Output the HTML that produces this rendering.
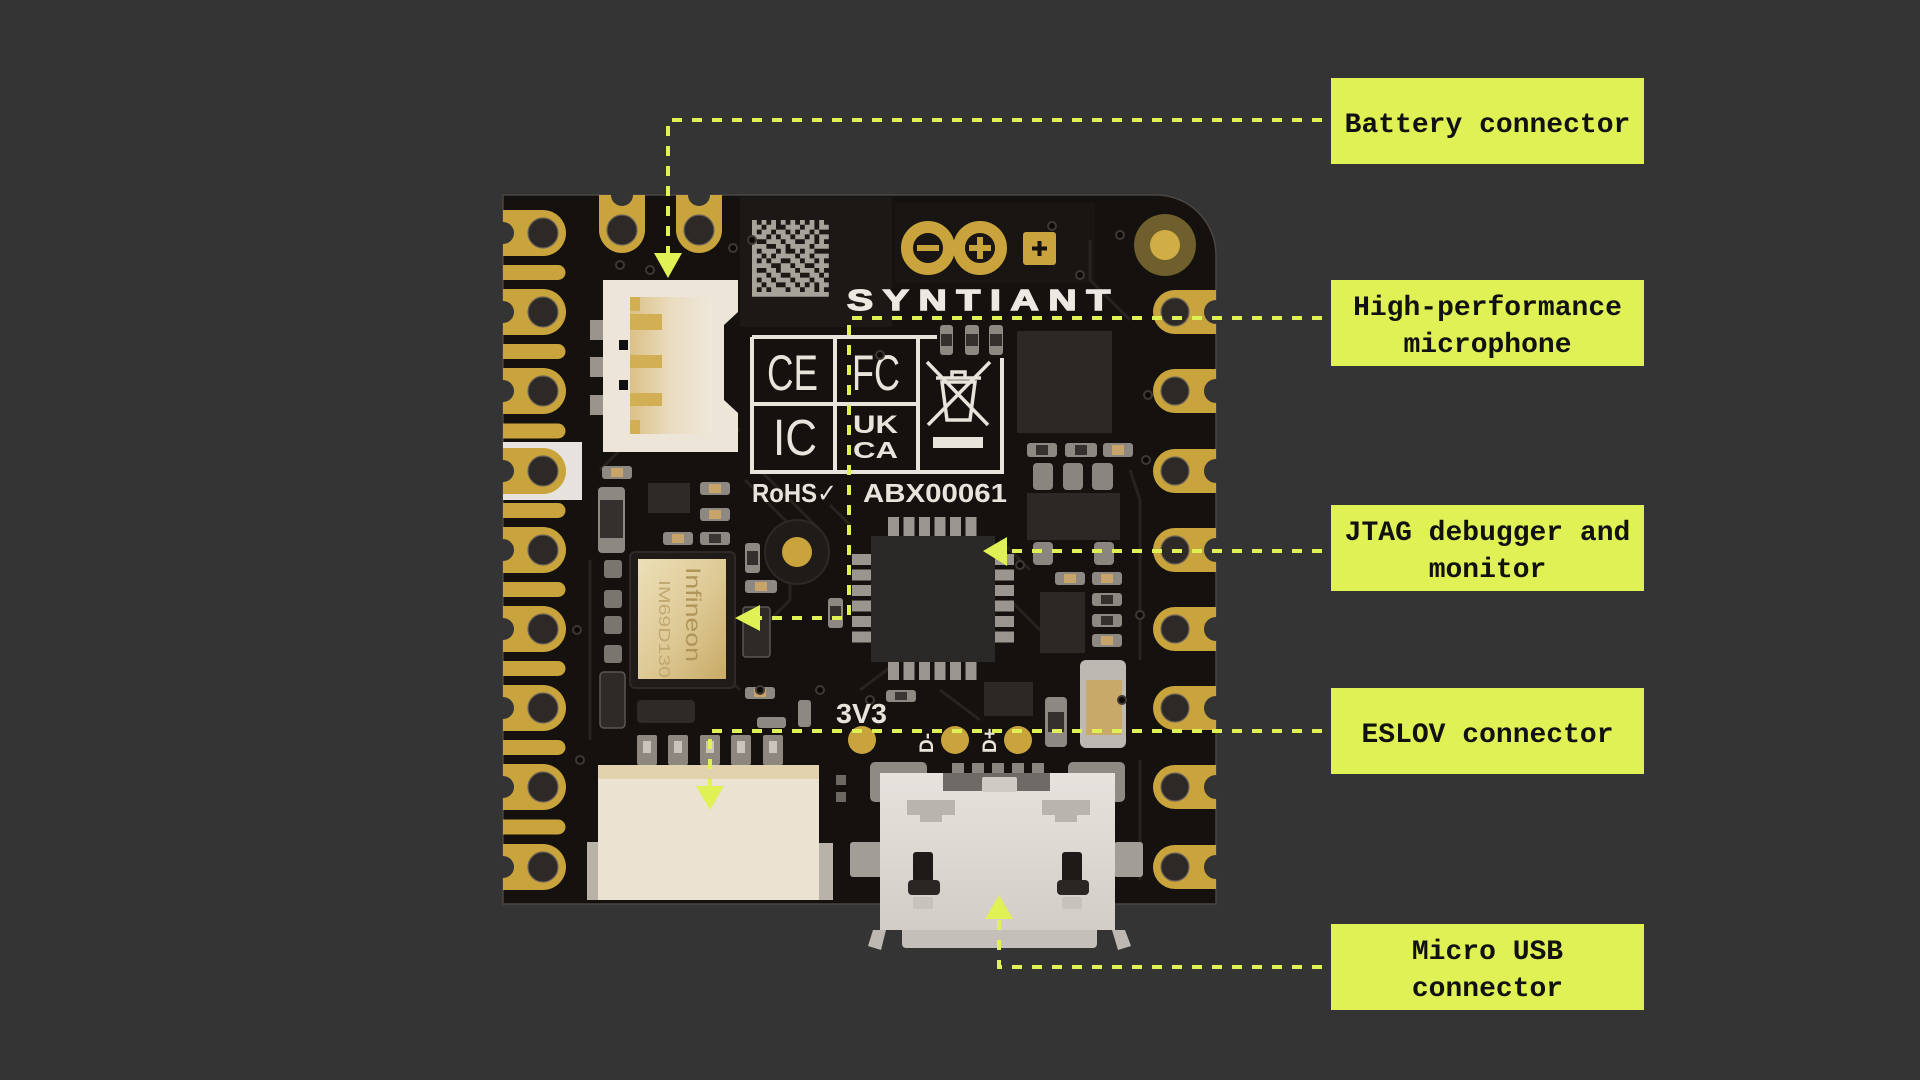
<!DOCTYPE html>
<html><head><meta charset="utf-8">
<style>
html,body{margin:0;padding:0;background:#343434;}
body{width:1920px;height:1080px;position:relative;overflow:hidden;font-family:"Liberation Sans",sans-serif;}
svg{position:absolute;left:0;top:0;}
.box{position:absolute;left:1331px;width:313px;height:86px;background:#dff155;color:#111;font-family:"Liberation Mono",monospace;font-weight:bold;font-size:28px;line-height:37px;display:flex;align-items:center;justify-content:center;text-align:center;}
.box>div{position:relative;top:4px;}
</style></head><body>
<svg width="1920" height="1080" viewBox="0 0 1920 1080" xmlns="http://www.w3.org/2000/svg">
<defs>
<linearGradient id="usb" x1="0" y1="0" x2="0" y2="1"><stop offset="0" stop-color="#e6e3de"/><stop offset="1" stop-color="#d2cdc6"/></linearGradient>
<linearGradient id="mic" x1="0" y1="0" x2="1" y2="1"><stop offset="0" stop-color="#ecdfb8"/><stop offset="0.55" stop-color="#ddc893"/><stop offset="1" stop-color="#c7aa66"/></linearGradient>
<linearGradient id="bat" x1="0" y1="0" x2="1" y2="0"><stop offset="0" stop-color="#dcc086"/><stop offset="0.5" stop-color="#eadcc0"/><stop offset="1" stop-color="#efe7da"/></linearGradient>
</defs>

<!-- board -->
<path d="M503 195H1156A60 60 0 0 1 1216 255V904H503Z" fill="#14110e" stroke="#4b4640" stroke-width="1.5"/>
<rect x="740" y="197" width="152" height="130" fill="#1b1815"/>
<rect x="895" y="203" width="200" height="80" fill="#181512"/>

<!-- traces -->
<g stroke="#28231f" stroke-width="3" fill="none">
<path d="M600 470 L640 430 L740 430"/>
<path d="M745 480 L790 525 L790 600 L760 630"/>
<path d="M760 470 L820 530"/>
<path d="M700 560 L700 650 L740 690"/>
<path d="M830 505 L850 525"/>
<path d="M1000 540 L1030 570"/>
<path d="M1010 600 L1040 630"/>
<path d="M1130 470 L1140 500 L1140 660"/>
<path d="M860 690 L900 660"/>
<path d="M940 690 L980 720"/>
<path d="M590 560 L590 740"/>
<path d="M1140 760 L1140 880"/>
<path d="M1090 240 L1090 280 L1130 320"/>
</g>

<!-- white label rect left -->
<rect x="503" y="442" width="79" height="58" fill="#e6e3de"/>

<!-- left pads -->
<g fill="#c9a33c">
<path d="M503 210H543A23 23 0 0 1 543 256H503Z"/>
<path d="M503 289H543A23 23 0 0 1 543 335H503Z"/>
<path d="M503 368H543A23 23 0 0 1 543 414H503Z"/>
<path d="M503 448H543A23 23 0 0 1 543 494H503Z"/>
<path d="M503 527H543A23 23 0 0 1 543 573H503Z"/>
<path d="M503 606H543A23 23 0 0 1 543 652H503Z"/>
<path d="M503 685H543A23 23 0 0 1 543 731H503Z"/>
<path d="M503 764H543A23 23 0 0 1 543 810H503Z"/>
<path d="M503 844H543A23 23 0 0 1 543 890H503Z"/>
<path d="M503 265H558A7.5 7.5 0 0 1 558 280H503Z"/>
<path d="M503 344H558A7.5 7.5 0 0 1 558 359H503Z"/>
<path d="M503 423.5H558A7.5 7.5 0 0 1 558 438.5H503Z"/>
<path d="M503 503H558A7.5 7.5 0 0 1 558 518H503Z"/>
<path d="M503 582H558A7.5 7.5 0 0 1 558 597H503Z"/>
<path d="M503 661H558A7.5 7.5 0 0 1 558 676H503Z"/>
<path d="M503 740H558A7.5 7.5 0 0 1 558 755H503Z"/>
<path d="M503 819.5H558A7.5 7.5 0 0 1 558 834.5H503Z"/>
<!-- right pads -->
<path d="M1216 290H1175A22 22 0 0 0 1175 334H1216Z"/>
<path d="M1216 369H1175A22 22 0 0 0 1175 413H1216Z"/>
<path d="M1216 449H1175A22 22 0 0 0 1175 493H1216Z"/>
<path d="M1216 528H1175A22 22 0 0 0 1175 572H1216Z"/>
<path d="M1216 607H1175A22 22 0 0 0 1175 651H1216Z"/>
<path d="M1216 686H1175A22 22 0 0 0 1175 730H1216Z"/>
<path d="M1216 765H1175A22 22 0 0 0 1175 809H1216Z"/>
<path d="M1216 845H1175A22 22 0 0 0 1175 889H1216Z"/>
<!-- top pads -->
<path d="M599 195V230A23 23 0 0 0 645 230V195Z"/>
<path d="M676 195V230A23 23 0 0 0 722 230V195Z"/>
</g>
<g fill="#2c2927" stroke="#6b6359" stroke-width="1.2">
<circle cx="543" cy="233" r="15"/><circle cx="543" cy="312" r="15"/><circle cx="543" cy="391" r="15"/>
<circle cx="543" cy="471" r="15"/><circle cx="543" cy="550" r="15"/><circle cx="543" cy="629" r="15"/>
<circle cx="543" cy="708" r="15"/><circle cx="543" cy="787" r="15"/><circle cx="543" cy="867" r="15"/>
<circle cx="1175" cy="312" r="14"/><circle cx="1175" cy="391" r="14"/><circle cx="1175" cy="471" r="14"/>
<circle cx="1175" cy="550" r="14"/><circle cx="1175" cy="629" r="14"/><circle cx="1175" cy="708" r="14"/>
<circle cx="1175" cy="787" r="14"/><circle cx="1175" cy="867" r="14"/>
<circle cx="622" cy="230" r="15"/><circle cx="699" cy="230" r="15"/>
</g>
<g fill="#343434">
<circle cx="503" cy="233" r="11"/><circle cx="503" cy="312" r="11"/><circle cx="503" cy="391" r="11"/>
<circle cx="503" cy="471" r="11"/><circle cx="503" cy="550" r="11"/><circle cx="503" cy="629" r="11"/>
<circle cx="503" cy="708" r="11"/><circle cx="503" cy="787" r="11"/><circle cx="503" cy="867" r="11"/>
<circle cx="1216" cy="312" r="12"/><circle cx="1216" cy="391" r="12"/><circle cx="1216" cy="471" r="12"/>
<circle cx="1216" cy="550" r="12"/><circle cx="1216" cy="629" r="12"/><circle cx="1216" cy="708" r="12"/>
<circle cx="1216" cy="787" r="12"/><circle cx="1216" cy="867" r="12"/>
<circle cx="622" cy="195" r="11"/><circle cx="699" cy="195" r="11"/>
</g>

<!-- mounting hole -->
<circle cx="1165" cy="245" r="31" fill="#6e5f2c"/>
<circle cx="1165" cy="245" r="15" fill="#d1ad45"/>

<!-- QR -->
<g transform="translate(752,220) scale(4.8)" fill="#a7a29a">
<path d="M0 0h1v1h-1zM2 0h1v1h-1zM4 0h1v1h-1zM6 0h1v1h-1zM8 0h1v1h-1zM10 0h1v1h-1zM12 0h1v1h-1zM14 0h1v1h-1z
M0 1h2v1h-2zM3 1h2v1h-2zM7 1h3v1h-3zM11 1h2v1h-2zM14 1h2v1h-2z
M0 2h1v1h-1zM2 2h2v1h-2zM5 2h2v1h-2zM8 2h1v1h-1zM10 2h2v1h-2zM13 2h1v1h-1z
M0 3h3v1h-3zM4 3h1v1h-1zM6 3h2v1h-2zM9 3h2v1h-2zM12 3h1v1h-1zM14 3h2v1h-2z
M0 4h1v1h-1zM3 4h3v1h-3zM7 4h2v1h-2zM11 4h2v1h-2zM14 4h1v1h-1z
M0 5h3v1h-3zM5 5h2v1h-2zM8 5h4v1h-4zM13 5h3v1h-3z
M0 6h1v1h-1zM2 6h3v1h-3zM6 6h1v1h-1zM9 6h1v1h-1zM11 6h2v1h-2z
M0 7h2v1h-2zM3 7h1v1h-1zM5 7h4v1h-4zM10 7h2v1h-2zM13 7h3v1h-3z
M0 8h1v1h-1zM2 8h1v1h-1zM4 8h2v1h-2zM8 8h2v1h-2zM11 8h2v1h-2zM14 8h1v1h-1z
M0 9h4v1h-4zM6 9h2v1h-2zM9 9h2v1h-2zM13 9h3v1h-3z
M0 10h1v1h-1zM3 10h2v1h-2zM6 10h3v1h-3zM10 10h3v1h-3zM14 10h1v1h-1z
M0 11h3v1h-3zM4 11h2v1h-2zM8 11h2v1h-2zM12 11h2v1h-2zM15 11h1v1h-1z
M0 12h1v1h-1zM2 12h2v1h-2zM5 12h3v1h-3zM9 12h3v1h-3zM13 12h2v1h-2z
M0 13h2v1h-2zM3 13h2v1h-2zM7 13h2v1h-2zM10 13h1v1h-1zM12 13h1v1h-1zM14 13h2v1h-2z
M0 14h1v1h-1zM2 14h1v1h-1zM4 14h3v1h-3zM8 14h2v1h-2zM11 14h2v1h-2zM14 14h1v1h-1z
M0 15h16v1h-16z"/>
</g>

<!-- Arduino logo -->
<g fill="none" stroke="#c9a33c" stroke-width="12">
<circle cx="928" cy="248" r="21"/><circle cx="980" cy="248" r="21"/>
</g>
<g fill="#c9a33c">
<rect x="917" y="245" width="22" height="6"/>
<rect x="969" y="245" width="22" height="6"/><rect x="977" y="237" width="6" height="22"/>
<rect x="1023" y="232" width="33" height="33" rx="3"/>
</g>
<rect x="1032" y="246.5" width="15" height="4" fill="#14110e"/>
<rect x="1037.5" y="241" width="4" height="15" fill="#14110e"/>

<!-- SYNTIANT -->
<text transform="translate(847,310) scale(1.35,1)" font-family="Liberation Sans, sans-serif" font-weight="bold" font-size="29" fill="#ece8e2" stroke="#ece8e2" stroke-width="1.4" textLength="195" lengthAdjust="spacing">SYNTIANT</text>

<!-- certification box -->
<g stroke="#e8e4dc" stroke-width="4" fill="none">
<path d="M752 337H937"/><path d="M752 337V472H1002V358"/>
<path d="M835 337V472"/><path d="M918 337V472"/><path d="M752 404H918"/>
</g>
<g fill="#e8e4dc" font-family="Liberation Sans, sans-serif">
<text x="767" y="390" font-size="50" textLength="51" lengthAdjust="spacingAndGlyphs">CE</text>
<text x="852" y="390" font-size="50" textLength="48" lengthAdjust="spacingAndGlyphs">FC</text>
<text x="773" y="455" font-size="51" textLength="44" lengthAdjust="spacingAndGlyphs">IC</text>
<text x="853" y="433" font-size="25" font-weight="bold" textLength="45" lengthAdjust="spacingAndGlyphs">UK</text>
<text x="853" y="458" font-size="23" font-weight="bold" textLength="45" lengthAdjust="spacingAndGlyphs">CA</text>
<rect x="933" y="437" width="50" height="11"/>
</g>
<g stroke="#e8e4dc" stroke-width="3.5" fill="none">
<path d="M927 362L988 425M990 362L928 425"/>
<path d="M942 382H975L970 420H947Z"/><path d="M936 378H981"/><path d="M952 378V372H965V378"/>
</g>
<g fill="#e8e4dc" font-family="Liberation Sans, DejaVu Sans, sans-serif" font-weight="bold" font-size="26">
<text x="752" y="502" textLength="85" lengthAdjust="spacingAndGlyphs">RoHS✓</text>
<text x="863" y="502" textLength="144" lengthAdjust="spacingAndGlyphs">ABX00061</text>
</g>

<!-- battery connector -->
<g fill="#9a948c">
<rect x="590" y="320" width="14" height="20"/><rect x="590" y="357" width="14" height="20"/><rect x="590" y="395" width="14" height="20"/>
</g>
<path d="M603 280H738V312L724 325V400L738 413V452H603Z" fill="#ece5d8"/>
<rect x="630" y="297" width="82" height="137" fill="url(#bat)"/>
<g fill="#d2ae55">
<rect x="630" y="314" width="32" height="16"/><rect x="630" y="355" width="32" height="13"/><rect x="630" y="393" width="32" height="13"/>
<rect x="630" y="297" width="10" height="14"/><rect x="630" y="420" width="10" height="14"/>
</g>
<rect x="619" y="340" width="9" height="10" fill="#111"/><rect x="619" y="380" width="9" height="10" fill="#111"/>

<!-- SMD parts generic -->
<g>
<rect x="602" y="466" width="30" height="13" rx="3" fill="#8d8882"/><rect x="611" y="468" width="12" height="9" fill="#c9a46a"/>
<rect x="598" y="487" width="27" height="66" rx="4" fill="#8d8882"/><rect x="600" y="500" width="23" height="38" fill="#34302d"/>
<rect x="648" y="483" width="42" height="30" fill="#2d2a28"/>
<rect x="700" y="482" width="30" height="13" rx="3" fill="#8d8882"/><rect x="709" y="484" width="12" height="9" fill="#c9a46a"/>
<rect x="700" y="508" width="30" height="13" rx="3" fill="#8d8882"/><rect x="709" y="510" width="12" height="9" fill="#c9a46a"/>
<rect x="663" y="532" width="30" height="13" rx="3" fill="#8d8882"/><rect x="672" y="534" width="12" height="9" fill="#c9a46a"/>
<rect x="700" y="532" width="30" height="13" rx="3" fill="#8d8882"/><rect x="709" y="534" width="12" height="9" fill="#3a3633"/>
<rect x="604" y="560" width="18" height="18" rx="3" fill="#7a756f"/>
<rect x="604" y="590" width="18" height="18" rx="3" fill="#7a756f"/>
<rect x="604" y="616" width="18" height="18" rx="3" fill="#7a756f"/>
<rect x="604" y="645" width="18" height="18" rx="3" fill="#7a756f"/>
<rect x="600" y="672" width="25" height="56" rx="4" fill="#2d2a28" stroke="#5c5651" stroke-width="1.5"/>
<rect x="637" y="700" width="58" height="23" rx="4" fill="#2d2a28"/>
<rect x="745" y="543" width="15" height="30" rx="3" fill="#8d8882"/><rect x="747" y="551" width="11" height="14" fill="#34302d"/>
<rect x="745" y="580" width="32" height="13" rx="3" fill="#8d8882"/><rect x="755" y="582" width="12" height="9" fill="#c9a46a"/>
<rect x="743" y="607" width="27" height="50" rx="3" fill="#2d2a28" stroke="#5c5651" stroke-width="1.5"/>
<rect x="828" y="598" width="15" height="30" rx="3" fill="#8d8882"/><rect x="830" y="606" width="11" height="14" fill="#34302d"/>
<rect x="745" y="687" width="30" height="12" rx="3" fill="#8d8882"/><rect x="754" y="689" width="12" height="8" fill="#c9a46a"/>
<rect x="757" y="717" width="29" height="11" rx="3" fill="#8d8882"/>
<rect x="798" y="700" width="13" height="27" rx="3" fill="#8d8882"/>
<rect x="886" y="690" width="30" height="12" rx="3" fill="#8d8882"/><rect x="895" y="692" width="12" height="8" fill="#3a3633"/>
<rect x="940" y="325" width="13" height="30" rx="3" fill="#8d8882"/><rect x="941" y="334" width="11" height="12" fill="#34302d"/>
<rect x="965" y="325" width="14" height="30" rx="3" fill="#8d8882"/><rect x="966" y="334" width="12" height="12" fill="#34302d"/>
<rect x="989" y="325" width="14" height="30" rx="3" fill="#8d8882"/><rect x="990" y="334" width="12" height="12" fill="#34302d"/>
<rect x="1017" y="331" width="95" height="102" fill="#2b2826"/>
<rect x="1027" y="443" width="30" height="14" rx="3" fill="#8d8882"/><rect x="1036" y="445" width="12" height="10" fill="#34302d"/>
<rect x="1065" y="443" width="32" height="14" rx="3" fill="#8d8882"/><rect x="1075" y="445" width="12" height="10" fill="#34302d"/>
<rect x="1103" y="443" width="30" height="14" rx="3" fill="#8d8882"/><rect x="1112" y="445" width="12" height="10" fill="#c9a46a"/>
<rect x="1033" y="463" width="20" height="27" rx="4" fill="#8a857f"/>
<rect x="1063" y="463" width="20" height="27" rx="4" fill="#8a857f"/>
<rect x="1092" y="463" width="21" height="27" rx="4" fill="#8a857f"/>
<rect x="1027" y="493" width="93" height="47" fill="#2b2826"/>
<rect x="1033" y="542" width="20" height="23" rx="4" fill="#8a857f"/>
<rect x="1094" y="542" width="20" height="23" rx="4" fill="#8a857f"/>
<rect x="1055" y="572" width="30" height="13" rx="3" fill="#8d8882"/><rect x="1064" y="574" width="12" height="9" fill="#c9a46a"/>
<rect x="1092" y="572" width="30" height="13" rx="3" fill="#8d8882"/><rect x="1101" y="574" width="12" height="9" fill="#c9a46a"/>
<rect x="1092" y="593" width="30" height="13" rx="3" fill="#8d8882"/><rect x="1101" y="595" width="12" height="9" fill="#34302d"/>
<rect x="1092" y="614" width="30" height="13" rx="3" fill="#8d8882"/><rect x="1101" y="616" width="12" height="9" fill="#34302d"/>
<rect x="1092" y="634" width="30" height="13" rx="3" fill="#8d8882"/><rect x="1101" y="636" width="12" height="9" fill="#c9a46a"/>
<rect x="1040" y="592" width="45" height="61" fill="#2b2826"/>
<rect x="1080" y="660" width="46" height="88" rx="6" fill="#bdb8b1"/><rect x="1086" y="680" width="36" height="55" fill="#c9a96a"/>
<rect x="1045" y="697" width="22" height="50" rx="4" fill="#8d8882"/><rect x="1048" y="712" width="16" height="20" fill="#34302d"/>
<rect x="984" y="682" width="49" height="34" fill="#2b2826"/>
<rect x="836" y="775" width="10" height="10" fill="#6d6862"/><rect x="836" y="792" width="10" height="10" fill="#6d6862"/>
</g>

<!-- vias -->
<g fill="#0c0a08" stroke="#3e3833" stroke-width="2">
<circle cx="733" cy="248" r="4"/><circle cx="752" cy="240" r="4"/><circle cx="880" cy="355" r="4"/>
<circle cx="1052" cy="226" r="4"/><circle cx="1080" cy="275" r="4"/><circle cx="1120" cy="235" r="4"/>
<circle cx="1148" cy="395" r="4"/><circle cx="1146" cy="460" r="4"/><circle cx="1122" cy="700" r="4"/>
<circle cx="620" cy="265" r="4"/><circle cx="650" cy="270" r="4"/><circle cx="760" cy="690" r="4"/>
<circle cx="820" cy="690" r="4"/><circle cx="870" cy="700" r="4"/><circle cx="1020" cy="565" r="4"/>
<circle cx="580" cy="760" r="4"/><circle cx="577" cy="630" r="4"/><circle cx="1140" cy="615" r="4"/>
</g>

<!-- round buzzer/pad -->
<circle cx="797" cy="552" r="32" fill="#1f1b18" stroke="#2e2925" stroke-width="2"/>
<circle cx="797" cy="552" r="15" fill="#c9a33c"/>

<!-- microphone module -->
<rect x="630" y="552" width="105" height="136" rx="5" fill="#1e1b19" stroke="#2f2a26" stroke-width="2"/>
<rect x="638" y="559" width="88" height="120" fill="url(#mic)"/>
<text transform="translate(686,567) rotate(90)" font-family="Liberation Sans, sans-serif" font-size="21" fill="#b0955a" textLength="95" lengthAdjust="spacingAndGlyphs">Infineon</text>
<text transform="translate(659,580) rotate(90)" font-family="Liberation Sans, sans-serif" font-size="16" fill="#c1a770" textLength="98" lengthAdjust="spacingAndGlyphs">IM69D130</text>

<!-- QFN chip -->
<g fill="#9a958e">
<rect x="888" y="517" width="11" height="19"/><rect x="903.5" y="517" width="11" height="19"/><rect x="919" y="517" width="11" height="19"/>
<rect x="934.5" y="517" width="11" height="19"/><rect x="950" y="517" width="11" height="19"/><rect x="965.5" y="517" width="11" height="19"/>
<rect x="888" y="662" width="11" height="18"/><rect x="903.5" y="662" width="11" height="18"/><rect x="919" y="662" width="11" height="18"/>
<rect x="934.5" y="662" width="11" height="18"/><rect x="950" y="662" width="11" height="18"/><rect x="965.5" y="662" width="11" height="18"/>
<rect x="852" y="554" width="19" height="11"/><rect x="852" y="569.5" width="19" height="11"/><rect x="852" y="585" width="19" height="11"/>
<rect x="852" y="600.5" width="19" height="11"/><rect x="852" y="616" width="19" height="11"/><rect x="852" y="631.5" width="19" height="11"/>
<rect x="995" y="554" width="19" height="11"/><rect x="995" y="569.5" width="19" height="11"/><rect x="995" y="585" width="19" height="11"/>
<rect x="995" y="600.5" width="19" height="11"/><rect x="995" y="616" width="19" height="11"/><rect x="995" y="631.5" width="19" height="11"/>
</g>
<rect x="871" y="536" width="124" height="126" fill="#2b2927"/>

<!-- 3V3 etc -->
<text x="836" y="723" font-family="Liberation Sans, sans-serif" font-weight="bold" font-size="28" fill="#e8e4dc" textLength="51" lengthAdjust="spacingAndGlyphs">3V3</text>
<g fill="#c9a33c"><circle cx="862" cy="740" r="14"/><circle cx="955" cy="740" r="14"/><circle cx="1018" cy="740" r="14"/></g>
<text transform="translate(933,753) rotate(-90)" font-family="Liberation Sans, sans-serif" font-weight="bold" font-size="19" fill="#e8e4dc">D-</text>
<text transform="translate(996,753) rotate(-90)" font-family="Liberation Sans, sans-serif" font-weight="bold" font-size="19" fill="#e8e4dc">D+</text>

<!-- ESLOV connector -->
<g>
<rect x="587" y="842" width="12" height="58" fill="#b8b2a8"/>
<rect x="818" y="843" width="15" height="57" fill="#b8b2a8"/>
<g fill="#8d8780">
<rect x="637" y="735" width="20" height="30" rx="2"/><rect x="668" y="735" width="20" height="30" rx="2"/>
<rect x="700" y="735" width="20" height="30" rx="2"/><rect x="731" y="735" width="20" height="30" rx="2"/>
<rect x="763" y="735" width="20" height="30" rx="2"/>
</g>
<g fill="#c9c4bc">
<rect x="643" y="741" width="8" height="12"/><rect x="674" y="741" width="8" height="12"/>
<rect x="706" y="741" width="8" height="12"/><rect x="737" y="741" width="8" height="12"/>
<rect x="769" y="741" width="8" height="12"/>
</g>
<rect x="598" y="765" width="221" height="135" fill="#ebe2d2"/>
<rect x="598" y="765" width="221" height="14" fill="#e2d2ae"/>
</g>

<!-- USB connector -->
<g>
<rect x="850" y="842" width="33" height="35" rx="3" fill="#a29d96"/>
<rect x="1114" y="842" width="29" height="35" rx="3" fill="#a29d96"/>
<rect x="870" y="762" width="57" height="40" rx="5" fill="#8f8a84"/>
<rect x="1068" y="762" width="57" height="40" rx="5" fill="#8f8a84"/>
<g fill="#8a857f">
<rect x="952" y="763" width="12" height="14"/><rect x="972" y="763" width="12" height="14"/><rect x="992" y="763" width="12" height="14"/>
<rect x="1012" y="763" width="12" height="14"/><rect x="1032" y="763" width="12" height="14"/>
</g>
<rect x="902" y="925" width="195" height="23" rx="4" fill="#c4bfb8"/>
<polygon points="873,930 886,930 881,950 868,946" fill="#bdb8b1"/>
<polygon points="1112,930 1125,930 1131,946 1118,950" fill="#bdb8b1"/>
<rect x="880" y="773" width="235" height="157" fill="url(#usb)"/>
<rect x="943" y="773" width="107" height="18" fill="#6e6a65"/>
<rect x="982" y="777" width="35" height="15" rx="2" fill="#cfcac4"/>
<path d="M907 800H955V815H942V822H920V815H907Z" fill="#b9b4ad"/>
<path d="M1042 800H1090V815H1077V822H1055V815H1042Z" fill="#b9b4ad"/>
<rect x="913" y="852" width="20" height="35" rx="3" fill="#1d1a18"/><rect x="908" y="880" width="32" height="15" rx="4" fill="#2a2624"/>
<rect x="913" y="897" width="20" height="12" rx="2" fill="#c7c2bb"/>
<rect x="1062" y="852" width="20" height="35" rx="3" fill="#1d1a18"/><rect x="1057" y="880" width="32" height="15" rx="4" fill="#2a2624"/>
<rect x="1062" y="897" width="20" height="12" rx="2" fill="#c7c2bb"/>
</g>

<!-- connectors -->
<g stroke="#dff155" stroke-width="4" fill="none" stroke-dasharray="10 10">
<path d="M1322 120H668V253"/>
<path d="M1322 318H849V618H760"/>
<path d="M1322 551H1007"/>
<path d="M1322 731H710V786"/>
<path d="M1322 967H999V919"/>
</g>
<g fill="#dff155">
<polygon points="654,253 682,253 668,278"/>
<polygon points="760,605 760,631 735,618"/>
<polygon points="1007,537 1007,566 983,551"/>
<polygon points="696,786 724,786 710,810"/>
<polygon points="985,919 1013,919 999,895"/>
</g>
</svg>

<div class="box" style="top:78px"><div>Battery connector</div></div>
<div class="box" style="top:280px"><div>High-performance<br>microphone</div></div>
<div class="box" style="top:505px"><div>JTAG debugger and<br>monitor</div></div>
<div class="box" style="top:688px"><div>ESLOV connector</div></div>
<div class="box" style="top:924px"><div>Micro USB<br>connector</div></div>
</body></html>
